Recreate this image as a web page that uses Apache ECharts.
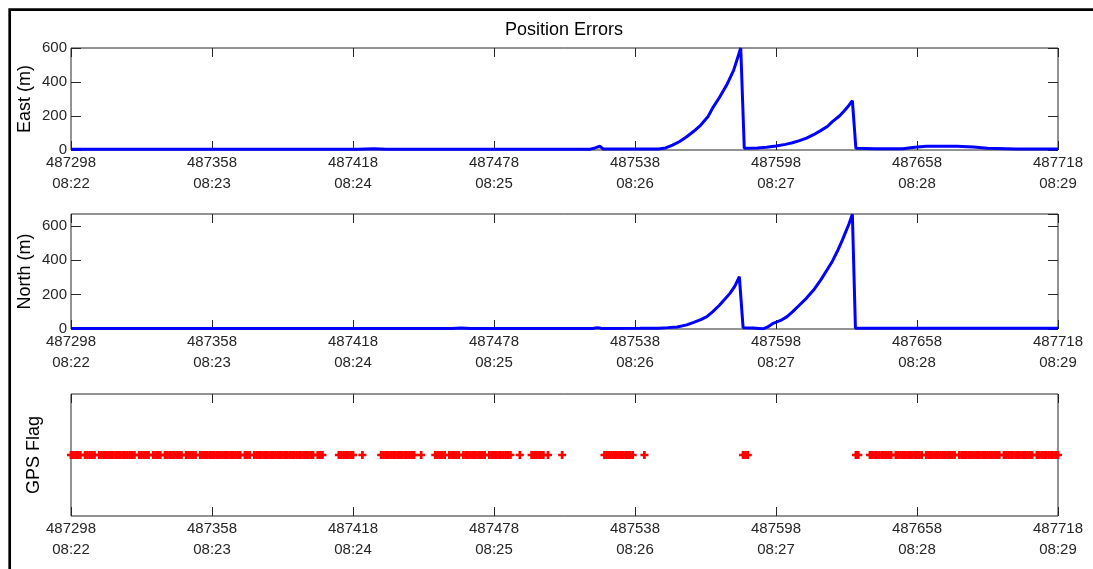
<!DOCTYPE html>
<html>
<head>
<meta charset="utf-8">
<title>Position Errors</title>
<script src="https://cdn.jsdelivr.net/npm/echarts@6/dist/echarts.min.js"></script>
<style>
  html, body { margin: 0; padding: 0; background: #fff; }
  #chart { width: 1093px; height: 569px; }
</style>
</head>
<body>
<div id="chart"></div>
<script>
// GPS seconds of week shown on the time axes, with the matching clock time
const secTicks = ['487298', '487358', '487418', '487478', '487538', '487598', '487658', '487718'];
const clockTicks = ['08:22', '08:23', '08:24', '08:25', '08:26', '08:27', '08:28', '08:29'];
const T0 = 487298;
const T1 = 487718;

// East position error (m)
const eastTime = [
  487298, 487420, 487427, 487432, 487456, 487519, 487521, 487523, 487524.5, 487548,
  487551, 487554, 487557, 487560, 487563, 487566, 487569, 487571, 487574, 487577,
  487580, 487583, 487584.5, 487590, 487594, 487598, 487602, 487605, 487608, 487611,
  487614, 487617, 487620, 487622, 487625, 487627, 487629, 487630.5, 487632, 487640,
  487652, 487657, 487662, 487675, 487682, 487688, 487700, 487718
];
const eastErr = [
  4, 4, 7, 4, 5, 5, 12, 22, 6, 6,
  12, 29, 50, 78, 110, 147, 195, 246, 310, 382,
  470, 600, 10, 12, 16, 23, 33, 43, 55, 70,
  90, 114, 140, 167, 200, 230, 262, 290, 10, 8,
  8, 16, 22, 22, 17, 10, 6, 6
];

// North position error (m)
const northTime = [
  487298, 487460, 487464, 487468, 487520, 487522, 487524, 487540, 487548, 487552,
  487556, 487560, 487563, 487566, 487568.6, 487571, 487574, 487576, 487578.5, 487580.5,
  487582.4, 487584, 487588, 487592.5, 487594.5, 487596.8, 487600, 487602.7, 487605, 487608,
  487611, 487614, 487617, 487619.7, 487622, 487624, 487626, 487627.4, 487629, 487630.5,
  487631.8, 487640, 487718
];
const northErr = [
  3, 3, 6, 3, 3, 8, 3, 4, 5, 8,
  12, 24, 39, 55, 72, 100, 140, 170, 209, 250,
  305, 8, 6, 1, 12, 33, 50, 72, 100, 140,
  180, 227, 285, 344, 395, 450, 510, 557, 610, 668,
  5, 5, 4
];

// Epochs (s of week) with a valid GPS fix
const gpsFixEpochs = [
  487298, 487299, 487300, 487301, 487302,
  487304, 487305, 487306, 487307, 487308,
  487310, 487311, 487312, 487313, 487314, 487315, 487316, 487317, 487318, 487319, 487320, 487321, 487322, 487323, 487324, 487325,
  487327, 487328, 487329, 487330, 487331,
  487333, 487334, 487335, 487336,
  487338, 487339, 487340, 487341, 487342, 487343, 487344, 487345,
  487347, 487348, 487349, 487350, 487351,
  487353, 487354, 487355, 487356, 487357, 487358, 487359, 487360, 487361, 487362, 487363, 487364, 487365, 487366, 487367, 487368, 487369, 487370,
  487372, 487373, 487374,
  487376, 487377, 487378, 487379, 487380, 487381, 487382, 487383, 487384, 487385, 487386, 487387, 487388, 487389, 487390, 487391, 487392, 487393, 487394, 487395, 487396, 487397, 487398, 487399, 487400, 487401,
  487403, 487404, 487405,
  487412, 487413, 487414, 487415, 487416, 487417, 487418,
  487422,
  487430, 487431, 487432, 487433, 487434, 487435, 487436, 487437, 487438, 487439, 487440, 487441, 487442, 487443, 487444,
  487447,
  487453, 487454, 487455, 487456, 487457,
  487459, 487460, 487461, 487462, 487463,
  487465, 487466, 487467, 487468, 487469, 487470, 487471, 487472, 487473, 487474,
  487476, 487477, 487478, 487479, 487480, 487481, 487482, 487483, 487484, 487485,
  487489,
  487494, 487495, 487496, 487497, 487498, 487499,
  487501,
  487507,
  487525, 487526, 487527, 487528, 487529, 487530, 487531, 487532, 487533, 487534, 487535, 487536, 487537,
  487542,
  487584, 487585, 487586,
  487632, 487633,
  487638, 487639, 487640, 487641, 487642, 487643, 487644, 487645, 487646, 487647,
  487649, 487650, 487651, 487652, 487653, 487654, 487655, 487656, 487657, 487658, 487659, 487660,
  487662, 487663, 487664, 487665, 487666, 487667, 487668, 487669, 487670, 487671, 487672, 487673, 487674,
  487676, 487677, 487678, 487679, 487680, 487681, 487682, 487683, 487684, 487685, 487686, 487687, 487688, 487689, 487690, 487691, 487692, 487693,
  487695, 487696, 487697, 487698, 487699, 487700, 487701, 487702, 487703, 487704, 487705, 487706, 487707,
  487709, 487710, 487711, 487712, 487713, 487714, 487715, 487716, 487717, 487718
];
const GPS_FLAG = 1;

const FONT = "'Liberation Sans', Arial, Helvetica, sans-serif";
const INK = '#262626';

// x values are plotted as seconds after T0 so the ticks fall on whole minutes
const rel = (t) => t - T0;
const pairs = (ts, vs) => ts.map((t, i) => [rel(t), vs[i]]);

const grids = [
  { left: 71, right: 35, top: 48, height: 102 },
  { left: 71, right: 35, top: 214, height: 115 },
  { left: 71, right: 35, top: 394, height: 122 }
].map(g => Object.assign({
  show: true, borderColor: INK, borderWidth: 1, backgroundColor: '#fff',
  containLabel: false, outerBoundsMode: 'none'
}, g));

function timeAxis(gi, position) {
  const bottom = position === 'bottom';
  return {
    type: 'value', gridIndex: gi, position: position,
    min: 0, max: rel(T1), interval: 60,
    axisLine: { show: false, onZero: false },
    splitLine: { show: false },
    axisTick: { show: true, inside: true, length: 9, lineStyle: { color: INK, width: 1 } },
    axisLabel: {
      show: bottom, margin: 2, color: INK, fontFamily: FONT, fontSize: 15, lineHeight: 21,
      formatter: (v) => {
        const i = Math.round(v / 60);
        return secTicks[i] + '\n' + clockTicks[i];
      }
    }
  };
}

function valueAxis(gi, position, max, name, showTicks, nameGap) {
  const left = position === 'left';
  return {
    type: 'value', gridIndex: gi, position: position,
    min: 0, max: max, interval: showTicks ? 200 : null,
    name: left ? name : '', nameLocation: 'middle', nameGap: nameGap,
    nameMoveOverlap: false,
    nameTextStyle: { color: '#000', fontFamily: FONT, fontSize: 18 },
    axisLine: { show: false, onZero: false },
    splitLine: { show: false },
    axisTick: { show: showTicks, inside: true, length: 10, lineStyle: { color: INK, width: 1 } },
    axisLabel: {
      show: left && showTicks, margin: 4, color: INK, fontFamily: FONT, fontSize: 15,
      showMaxLabel: max % 200 === 0
    }
  };
}

const plusSymbol = 'path://M3.3,0H6.7V3.3H10V6.7H6.7V10H3.3V6.7H0V3.3H3.3Z';

const option = {
  animation: false,
  backgroundColor: '#fff',
  grid: grids,
  xAxis: [
    timeAxis(0, 'bottom'), timeAxis(0, 'top'),
    timeAxis(1, 'bottom'), timeAxis(1, 'top'),
    timeAxis(2, 'bottom'), timeAxis(2, 'top')
  ],
  yAxis: [
    valueAxis(0, 'left', 600, 'East (m)', true, 37), valueAxis(0, 'right', 600, '', true, 0),
    valueAxis(1, 'left', 670, 'North (m)', true, 37), valueAxis(1, 'right', 670, '', true, 0),
    valueAxis(2, 'left', 2, 'GPS Flag', false, 28), valueAxis(2, 'right', 2, '', false, 0)
  ],
  graphic: [
    {
      type: 'polyline', silent: true,
      shape: { points: [[9.7, 569], [9.7, 9.7], [1093, 9.7]] },
      style: { stroke: '#000', lineWidth: 2.7, fill: null }
    },
    {
      type: 'text', x: 564, y: 30, silent: true,
      style: {
        text: 'Position Errors', fill: '#000', font: '18px ' + FONT,
        textAlign: 'center', textVerticalAlign: 'middle'
      }
    }
  ],
  series: [
    {
      name: 'East', type: 'line', xAxisIndex: 0, yAxisIndex: 0,
      data: pairs(eastTime, eastErr), showSymbol: false, clip: true,
      lineStyle: { color: '#0000ff', width: 3 }, itemStyle: { color: '#0000ff' }
    },
    {
      name: 'North', type: 'line', xAxisIndex: 2, yAxisIndex: 2,
      data: pairs(northTime, northErr), showSymbol: false, clip: true,
      lineStyle: { color: '#0000ff', width: 3 }, itemStyle: { color: '#0000ff' }
    },
    {
      name: 'GPS Flag', type: 'scatter', xAxisIndex: 4, yAxisIndex: 4,
      data: gpsFixEpochs.map(t => [rel(t), GPS_FLAG]),
      symbol: plusSymbol, symbolSize: 8,
      itemStyle: { color: '#ff0000', opacity: 1 }
    }
  ]
};

const chart = echarts.init(document.getElementById('chart'), null, { renderer: 'canvas' });
chart.setOption(option);
</script>
</body>
</html>
